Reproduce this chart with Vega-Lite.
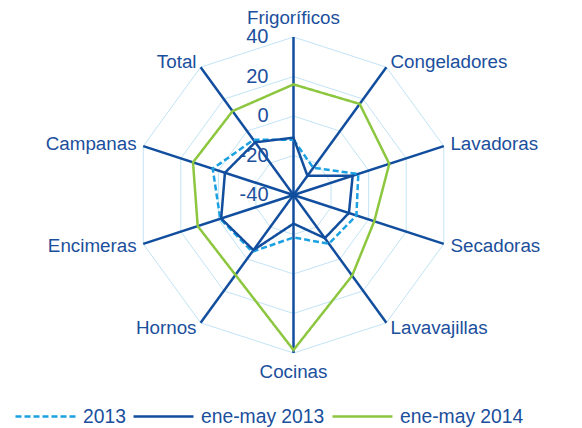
{
  "$schema": "https://vega.github.io/schema/vega-lite/v6.json",
  "width": 582,
  "height": 428,
  "autosize": {"type": "none"},
  "padding": 0,
  "background": "white",
  "config": {
    "view": {"stroke": null},
    "font": "Liberation Sans"
  },
  "datasets": {
    "radar": [
      {"cat": "Frigoríficos", "series": "2013", "value": -12},
      {"cat": "Congeladores", "series": "2013", "value": -23},
      {"cat": "Lavadoras", "series": "2013", "value": -5.5},
      {"cat": "Secadoras", "series": "2013", "value": -6.5},
      {"cat": "Lavavajillas", "series": "2013", "value": -9.5},
      {"cat": "Cocinas", "series": "2013", "value": -18.5},
      {"cat": "Hornos", "series": "2013", "value": -4.5},
      {"cat": "Encimeras", "series": "2013", "value": -1},
      {"cat": "Campanas", "series": "2013", "value": 3},
      {"cat": "Total", "series": "2013", "value": -5.5},
      {"cat": "Frigoríficos", "series": "ene-may 2013", "value": -11},
      {"cat": "Congeladores", "series": "ene-may 2013", "value": -28},
      {"cat": "Lavadoras", "series": "ene-may 2013", "value": -8.5},
      {"cat": "Secadoras", "series": "ene-may 2013", "value": -10.5},
      {"cat": "Lavavajillas", "series": "ene-may 2013", "value": -13},
      {"cat": "Cocinas", "series": "ene-may 2013", "value": -25.5},
      {"cat": "Hornos", "series": "ene-may 2013", "value": -5.5},
      {"cat": "Encimeras", "series": "ene-may 2013", "value": -1.5},
      {"cat": "Campanas", "series": "ene-may 2013", "value": -3.5},
      {"cat": "Total", "series": "ene-may 2013", "value": -7},
      {"cat": "Frigoríficos", "series": "ene-may 2014", "value": 16},
      {"cat": "Congeladores", "series": "ene-may 2014", "value": 17},
      {"cat": "Lavadoras", "series": "ene-may 2014", "value": 11},
      {"cat": "Secadoras", "series": "ene-may 2014", "value": 3},
      {"cat": "Lavavajillas", "series": "ene-may 2014", "value": 10.5},
      {"cat": "Cocinas", "series": "ene-may 2014", "value": 38.5},
      {"cat": "Hornos", "series": "ene-may 2014", "value": 10},
      {"cat": "Encimeras", "series": "ene-may 2014", "value": 11},
      {"cat": "Campanas", "series": "ene-may 2014", "value": 13.5},
      {"cat": "Total", "series": "ene-may 2014", "value": 12.5}
    ],
    "cats": [
      {"cat": "Frigoríficos"}, {"cat": "Congeladores"}, {"cat": "Lavadoras"}, {"cat": "Secadoras"}, {"cat": "Lavavajillas"},
      {"cat": "Cocinas"}, {"cat": "Hornos"}, {"cat": "Encimeras"}, {"cat": "Campanas"}, {"cat": "Total"}
    ],
    "grid": [
      {"level": -20, "cats": ["Frigoríficos", "Congeladores", "Lavadoras", "Secadoras", "Lavavajillas", "Cocinas", "Hornos", "Encimeras", "Campanas", "Total"]},
      {"level": 0, "cats": ["Frigoríficos", "Congeladores", "Lavadoras", "Secadoras", "Lavavajillas", "Cocinas", "Hornos", "Encimeras", "Campanas", "Total"]},
      {"level": 20, "cats": ["Frigoríficos", "Congeladores", "Lavadoras", "Secadoras", "Lavavajillas", "Cocinas", "Hornos", "Encimeras", "Campanas", "Total"]},
      {"level": 40, "cats": ["Frigoríficos", "Congeladores", "Lavadoras", "Secadoras", "Lavavajillas", "Cocinas", "Hornos", "Encimeras", "Campanas", "Total"]}
    ],
    "ticks": [{"v": 40}, {"v": 20}, {"v": 0}, {"v": -20}, {"v": -40}]
  },
  "layer": [
    {
      "data": {"name": "grid"},
      "transform": [
        {"flatten": ["cats"], "as": ["cat"]},
        {"calculate": "indexof(['Frigoríficos','Congeladores','Lavadoras','Secadoras','Lavavajillas','Cocinas','Hornos','Encimeras','Campanas','Total'], datum.cat) * PI / 5", "as": "a"},
        {"calculate": "(datum.level + 40) * 1.975", "as": "r"},
        {"calculate": "datum.r * sin(datum.a)", "as": "x"},
        {"calculate": "datum.r * cos(datum.a)", "as": "y"}
      ],
      "mark": {"type": "line", "interpolate": "linear-closed", "color": "#C2E4F6", "strokeWidth": 1},
      "encoding": {
        "x": {"field": "x", "type": "quantitative", "scale": {"domain": [-293.5, 288.5], "nice": false, "zero": false}, "axis": null},
        "y": {"field": "y", "type": "quantitative", "scale": {"domain": [-233, 195], "nice": false, "zero": false}, "axis": null},
        "detail": {"field": "level", "type": "nominal"},
        "order": {"field": "a", "type": "quantitative"}
      }
    },
    {
      "data": {"name": "cats"},
      "transform": [
        {"calculate": "indexof(['Frigoríficos','Congeladores','Lavadoras','Secadoras','Lavavajillas','Cocinas','Hornos','Encimeras','Campanas','Total'], datum.cat) * PI / 5", "as": "a"},
        {"calculate": "158 * sin(datum.a)", "as": "x"},
        {"calculate": "158 * cos(datum.a)", "as": "y"},
        {"calculate": "0", "as": "o"}
      ],
      "mark": {"type": "rule", "color": "#124E9E", "strokeWidth": 2.5},
      "encoding": {
        "x": {"field": "o", "type": "quantitative", "scale": {"domain": [-293.5, 288.5], "nice": false, "zero": false}, "axis": null},
        "y": {"field": "o", "type": "quantitative", "scale": {"domain": [-233, 195], "nice": false, "zero": false}, "axis": null},
        "x2": {"field": "x"},
        "y2": {"field": "y"}
      }
    },
    {
      "data": {"name": "radar"},
      "transform": [
        {"calculate": "indexof(['Frigoríficos','Congeladores','Lavadoras','Secadoras','Lavavajillas','Cocinas','Hornos','Encimeras','Campanas','Total'], datum.cat) * PI / 5", "as": "a"},
        {"calculate": "(datum.value + 40) * 1.975", "as": "r"},
        {"calculate": "datum.r * sin(datum.a)", "as": "x"},
        {"calculate": "datum.r * cos(datum.a)", "as": "y"}
      ],
      "mark": {"type": "line", "interpolate": "linear-closed", "strokeWidth": 2.5},
      "encoding": {
        "x": {"field": "x", "type": "quantitative", "scale": {"domain": [-293.5, 288.5], "nice": false, "zero": false}, "axis": null},
        "y": {"field": "y", "type": "quantitative", "scale": {"domain": [-233, 195], "nice": false, "zero": false}, "axis": null},
        "color": {"field": "series", "type": "nominal",
          "scale": {"domain": ["2013", "ene-may 2013", "ene-may 2014"], "range": ["#1BA1E2", "#124E9E", "#8DC63F"]},
          "legend": {"title": null, "orient": "none", "legendX": 14, "legendY": 385, "direction": "horizontal",
            "symbolType": "stroke", "symbolSize": 3600, "symbolStrokeWidth": 2.5, "labelFontSize": 19.3,
            "labelFont": "Liberation Sans", "labelColor": "#1B4F9C", "labelOffset": 6, "columnPadding": 2}},
        "strokeDash": {"field": "series", "type": "nominal",
          "scale": {"domain": ["2013", "ene-may 2013", "ene-may 2014"], "range": [[6, 3], [1, 0], [1, 0]]},
          "legend": {"title": null, "orient": "none", "legendX": 14, "legendY": 385, "direction": "horizontal",
            "symbolType": "stroke", "symbolSize": 3600, "symbolStrokeWidth": 2.5, "labelFontSize": 19.3,
            "labelFont": "Liberation Sans", "labelColor": "#1B4F9C", "labelOffset": 6, "columnPadding": 2}},
        "order": {"field": "a", "type": "quantitative"}
      }
    },
    {
      "data": {"name": "ticks"},
      "transform": [
        {"calculate": "(datum.v + 40) * 1.975", "as": "y"},
        {"calculate": "0", "as": "o"},
        {"calculate": "'' + datum.v", "as": "lab"}
      ],
      "mark": {"type": "text", "align": "right", "baseline": "middle", "dx": -25, "fontSize": 20, "color": "#1B4F9C", "font": "Liberation Sans"},
      "encoding": {
        "x": {"field": "o", "type": "quantitative", "scale": {"domain": [-293.5, 288.5], "nice": false, "zero": false}, "axis": null},
        "y": {"field": "y", "type": "quantitative", "scale": {"domain": [-233, 195], "nice": false, "zero": false}, "axis": null},
        "text": {"field": "lab", "type": "nominal"}
      }
    },
    {
      "data": {"name": "cats"},
      "transform": [
        {"filter": "datum.cat == 'Frigoríficos' || datum.cat == 'Cocinas'"},
        {"calculate": "indexof(['Frigoríficos','Congeladores','Lavadoras','Secadoras','Lavavajillas','Cocinas','Hornos','Encimeras','Campanas','Total'], datum.cat) * PI / 5", "as": "a"},
        {"calculate": "177 * sin(datum.a)", "as": "x"},
        {"calculate": "177 * cos(datum.a)", "as": "y"}
      ],
      "mark": {"type": "text", "align": "center", "baseline": "middle", "fontSize": 18.8, "color": "#1B4F9C", "font": "Liberation Sans"},
      "encoding": {
        "x": {"field": "x", "type": "quantitative", "scale": {"domain": [-293.5, 288.5], "nice": false, "zero": false}, "axis": null},
        "y": {"field": "y", "type": "quantitative", "scale": {"domain": [-233, 195], "nice": false, "zero": false}, "axis": null},
        "text": {"field": "cat", "type": "nominal"}
      }
    },
    {
      "data": {"name": "cats"},
      "transform": [
        {"filter": "indexof(['Congeladores','Lavadoras','Secadoras','Lavavajillas'], datum.cat) >= 0"},
        {"calculate": "indexof(['Frigoríficos','Congeladores','Lavadoras','Secadoras','Lavavajillas','Cocinas','Hornos','Encimeras','Campanas','Total'], datum.cat) * PI / 5", "as": "a"},
        {"calculate": "165 * sin(datum.a)", "as": "x"},
        {"calculate": "165 * cos(datum.a)", "as": "y"}
      ],
      "mark": {"type": "text", "align": "left", "baseline": "middle", "fontSize": 18.8, "color": "#1B4F9C", "font": "Liberation Sans"},
      "encoding": {
        "x": {"field": "x", "type": "quantitative", "scale": {"domain": [-293.5, 288.5], "nice": false, "zero": false}, "axis": null},
        "y": {"field": "y", "type": "quantitative", "scale": {"domain": [-233, 195], "nice": false, "zero": false}, "axis": null},
        "text": {"field": "cat", "type": "nominal"}
      }
    },
    {
      "data": {"name": "cats"},
      "transform": [
        {"filter": "indexof(['Hornos','Encimeras','Campanas','Total'], datum.cat) >= 0"},
        {"calculate": "indexof(['Frigoríficos','Congeladores','Lavadoras','Secadoras','Lavavajillas','Cocinas','Hornos','Encimeras','Campanas','Total'], datum.cat) * PI / 5", "as": "a"},
        {"calculate": "165 * sin(datum.a)", "as": "x"},
        {"calculate": "165 * cos(datum.a)", "as": "y"}
      ],
      "mark": {"type": "text", "align": "right", "baseline": "middle", "fontSize": 18.8, "color": "#1B4F9C", "font": "Liberation Sans"},
      "encoding": {
        "x": {"field": "x", "type": "quantitative", "scale": {"domain": [-293.5, 288.5], "nice": false, "zero": false}, "axis": null},
        "y": {"field": "y", "type": "quantitative", "scale": {"domain": [-233, 195], "nice": false, "zero": false}, "axis": null},
        "text": {"field": "cat", "type": "nominal"}
      }
    }
  ]
}
